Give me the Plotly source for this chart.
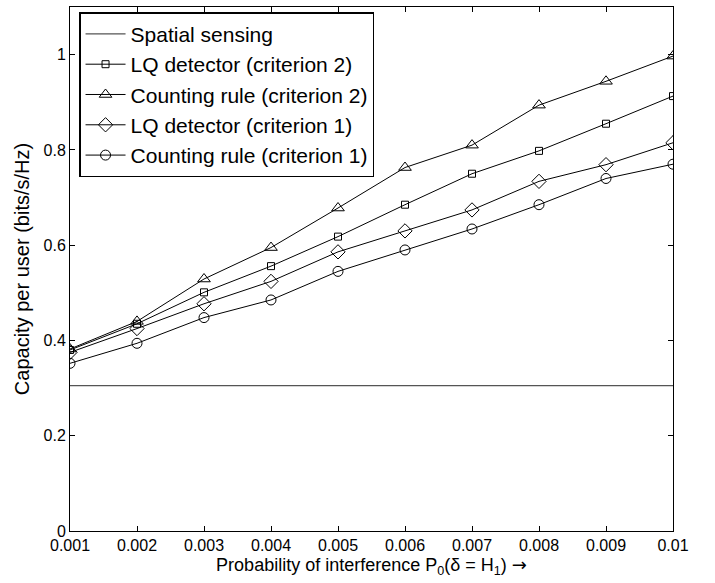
import plotly.graph_objects as go

x_vals = [0.001, 0.002, 0.003, 0.004, 0.005, 0.006, 0.007, 0.008, 0.009, 0.010]
spatial = [0.305] * 10
lq_c2 = [0.380, 0.435, 0.501, 0.556, 0.618, 0.685, 0.750, 0.798, 0.855, 0.913]
count_c2 = [0.382, 0.440, 0.529, 0.595, 0.678, 0.763, 0.810, 0.894, 0.944, 0.997]
lq_c1 = [0.375, 0.425, 0.477, 0.524, 0.586, 0.630, 0.674, 0.734, 0.769, 0.815]
count_c1 = [0.352, 0.394, 0.448, 0.485, 0.545, 0.590, 0.634, 0.685, 0.740, 0.770]

x_ticks = [0.001, 0.002, 0.003, 0.004, 0.005, 0.006, 0.007, 0.008, 0.009, 0.01]
x_ticklabels = ["0.001", "0.002", "0.003", "0.004", "0.005", "0.006", "0.007", "0.008", "0.009", "0.01"]
y_ticks = [0, 0.2, 0.4, 0.6, 0.8, 1.0]
y_ticklabels = ["0", "0.2", "0.4", "0.6", "0.8", "1"]

FONT = "Liberation Sans, Arial, sans-serif"

fig = go.Figure()
fig.add_trace(go.Scatter(x=x_vals, y=spatial, mode="lines", name="Spatial sensing",
                         line=dict(color="#555555", width=1.2)))
series = [
    ("LQ detector (criterion 2)", lq_c2, "square-open", 7),
    ("Counting rule (criterion 2)", count_c2, "triangle-up-open", 11),
    ("LQ detector (criterion 1)", lq_c1, "diamond-open", 11),
    ("Counting rule (criterion 1)", count_c1, "circle-open", 10),
]
for name, ys, sym, sz in series:
    fig.add_trace(go.Scatter(x=x_vals, y=ys, mode="lines+markers", name=name,
                             line=dict(color="black", width=1),
                             marker=dict(symbol=sym, size=sz, color="black",
                                         line=dict(color="black", width=1))))

fig.update_layout(
    width=715, height=583,
    margin=dict(l=70, r=42, t=7, b=52),
    paper_bgcolor="white", plot_bgcolor="white",
    font=dict(family=FONT, color="black", size=16),
    showlegend=True,
    legend=dict(x=0.015, y=0.99, xanchor="left", yanchor="top",
                bordercolor="black", borderwidth=1.5, bgcolor="white",
                font=dict(size=21, family=FONT), tracegroupgap=0,
                itemwidth=40),
    xaxis=dict(range=[0.001, 0.01], tickvals=x_ticks, ticktext=x_ticklabels,
               showline=True, linecolor="black", linewidth=1, mirror="ticks",
               ticks="inside", ticklen=5, tickcolor="black", showgrid=False,
               zeroline=False, tickfont=dict(size=16),
               title=dict(text="Probability of interference P<sub>0</sub>(δ = H<sub>1</sub>) <span style=\"font-family:DejaVu Sans\">→</span>",
                          font=dict(size=18), standoff=4)),
    yaxis=dict(range=[0, 1.1], tickvals=y_ticks, ticktext=y_ticklabels,
               showline=True, linecolor="black", linewidth=1, mirror="ticks",
               ticks="inside", ticklen=5, tickcolor="black", showgrid=False,
               zeroline=False, tickfont=dict(size=16),
               title=dict(text="Capacity per user (bits/s/Hz)", font=dict(size=20), standoff=8)),
)

fig.write_html("out.html")
